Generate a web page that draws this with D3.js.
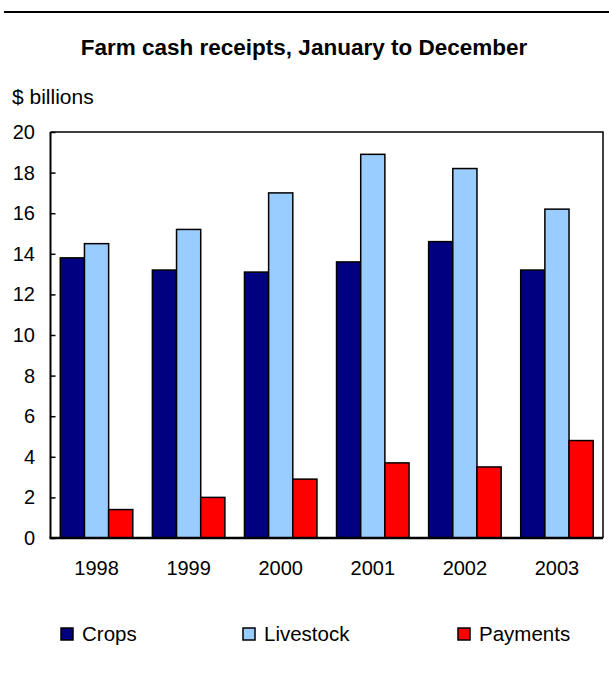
<!DOCTYPE html>
<html>
<head>
<meta charset="utf-8">
<script src="https://cdn.jsdelivr.net/npm/d3@7"></script>
<style>
  body { margin: 0; background: #fff; }
  text { font-family: "Liberation Sans", Arial, sans-serif; fill: #000; }
</style>
</head>
<body>
<script>
const years = ["1998", "1999", "2000", "2001", "2002", "2003"];
const seriesNames = ["Crops", "Livestock", "Payments"];
const crops = [13.8, 13.2, 13.1, 13.6, 14.6, 13.2];
const livestock = [14.5, 15.2, 17.0, 18.9, 18.2, 16.2];
const payments = [1.4, 2.0, 2.9, 3.7, 3.5, 4.8];
const yTicks = [0, 2, 4, 6, 8, 10, 12, 14, 16, 18, 20];
const colors = ["#000080", "#99ccff", "#ff0000"];

const width = 609;
const height = 675;
const plotLeft = 50.5, plotRight = 603, plotTop = 132, plotBottom = 538;

const rows = years.map((y, i) => ({ year: y, values: [crops[i], livestock[i], payments[i]] }));

const svg = d3.select("body")
    .append("svg")
    .attr("width", width)
    .attr("height", height);

// rule across the top
svg.append("line")
    .attr("x1", 4).attr("x2", width)
    .attr("y1", 12).attr("y2", 12)
    .attr("stroke", "#000")
    .attr("stroke-width", 2);

svg.append("text")
    .attr("x", 304)
    .attr("y", 55)
    .attr("text-anchor", "middle")
    .attr("font-size", 22.5)
    .attr("font-weight", "bold")
    .text("Farm cash receipts, January to December");

svg.append("text")
    .attr("x", 12)
    .attr("y", 104)
    .attr("font-size", 21)
    .text("$ billions");

const x0 = d3.scaleBand()
    .domain(years)
    .range([plotLeft, plotRight])
    .paddingInner(0.2125)
    .paddingOuter(0.10625);

const x1 = d3.scaleBand()
    .domain(seriesNames)
    .range([0, x0.bandwidth()]);

const yScale = d3.scaleLinear()
    .domain([0, 20])
    .range([plotBottom, plotTop]);

// plot frame (top and right)
svg.append("path")
    .attr("d", `M${plotLeft},${plotTop}H${plotRight}V${plotBottom}`)
    .attr("fill", "none")
    .attr("stroke", "#000")
    .attr("stroke-width", 1.5);

svg.append("g")
    .selectAll("g")
    .data(rows)
    .enter()
    .append("g")
    .attr("transform", d => `translate(${x0(d.year)},0)`)
    .selectAll("rect")
    .data(d => d.values.map((v, i) => ({ key: seriesNames[i], value: v, i: i })))
    .enter()
    .append("rect")
    .attr("x", d => x1(d.key))
    .attr("y", d => yScale(d.value))
    .attr("width", x1.bandwidth())
    .attr("height", d => yScale(0) - yScale(d.value))
    .attr("fill", d => colors[d.i])
    .attr("stroke", "#000")
    .attr("stroke-width", 1.5);

const yAxis = d3.axisRight(yScale)
    .tickValues(yTicks)
    .tickSize(5)
    .tickFormat("");

const yg = svg.append("g")
    .attr("transform", `translate(${plotLeft},0)`)
    .call(yAxis);
yg.select(".domain").attr("stroke-width", 2).attr("d", `M0,${plotTop}V${plotBottom}`);
yg.selectAll(".tick line").attr("stroke-width", 1.5);

svg.append("g")
    .selectAll("text")
    .data(yTicks)
    .enter()
    .append("text")
    .attr("x", 35)
    .attr("y", d => yScale(d) + 7)
    .attr("text-anchor", "end")
    .attr("font-size", 20)
    .text(d => d);

const xAxis = d3.axisBottom(x0).tickSize(0).tickPadding(0);
const xg = svg.append("g")
    .attr("transform", `translate(0,${plotBottom})`)
    .call(xAxis);
xg.select(".domain").attr("stroke-width", 2.5).attr("d", `M${plotLeft - 1},0H${plotRight}`);
xg.selectAll("text")
    .attr("font-size", 20)
    .attr("font-family", null)
    .attr("dy", null)
    .attr("y", 37);

// legend
const legendX = [61, 243, 458];
const leg = svg.append("g")
    .selectAll("g")
    .data(seriesNames)
    .enter()
    .append("g")
    .attr("transform", (d, i) => `translate(${legendX[i]},628)`);
leg.append("rect")
    .attr("width", 12)
    .attr("height", 12)
    .attr("fill", (d, i) => colors[i])
    .attr("stroke", "#000")
    .attr("stroke-width", 1.5);
leg.append("text")
    .attr("x", 21)
    .attr("y", 13)
    .attr("font-size", 20.5)
    .text(d => d);
</script>
</body>
</html>
